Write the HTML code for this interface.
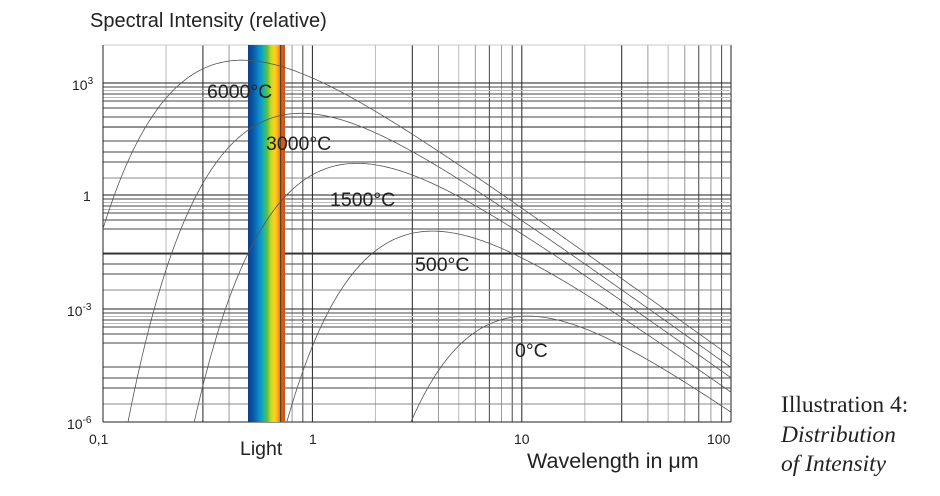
<!DOCTYPE html>
<html><head><meta charset="utf-8">
<style>
html,body{margin:0;padding:0;background:#fff;}
body{width:940px;height:496px;overflow:hidden;}
svg{display:block;}
svg text{font-family:"Liberation Sans",sans-serif;fill:#222;}
</style></head>
<body>
<svg id="s" width="940" height="496" xmlns="http://www.w3.org/2000/svg">
<defs>
<linearGradient id="sp" x1="0" x2="1" y1="0" y2="0">
<stop offset="0" stop-color="#0a3f8a"/>
<stop offset="0.15" stop-color="#0a5aa8"/>
<stop offset="0.3" stop-color="#0a8ccc"/>
<stop offset="0.42" stop-color="#17b2b0"/>
<stop offset="0.52" stop-color="#5fbf3a"/>
<stop offset="0.62" stop-color="#c6d82a"/>
<stop offset="0.72" stop-color="#ffd21a"/>
<stop offset="0.8" stop-color="#ffae14"/>
<stop offset="0.88" stop-color="#e8661a"/>
<stop offset="1" stop-color="#c8501e"/>
</linearGradient>
<clipPath id="cp"><rect x="103" y="45" width="628" height="377"/></clipPath>
</defs>
<g id="grid"></g>
<rect x="248" y="45" width="37" height="377" fill="url(#sp)"/>
<line x1="280.7" y1="45" x2="280.7" y2="422" stroke="#333" stroke-width="1"/>
<g id="curves" clip-path="url(#cp)" fill="none" stroke="#555" stroke-width="0.8"></g>
<text x="90" y="27" font-size="20">Spectral Intensity (relative)</text>
<text x="72" y="90" font-size="14">10<tspan dy="-6" font-size="10">3</tspan></text>
<text x="83" y="201" font-size="14">1</text>
<text x="67" y="316" font-size="14">10<tspan dy="-6" font-size="10">-3</tspan></text>
<text x="67" y="429" font-size="14">10<tspan dy="-6" font-size="10">-6</tspan></text>
<text x="89" y="444" font-size="14">0,1</text>
<text x="309" y="444" font-size="14">1</text>
<text x="514" y="444" font-size="14">10</text>
<text x="707" y="444" font-size="14">100</text>
<text x="240" y="455" font-size="19.5">Light</text>
<text x="527" y="468" font-size="21.5">Wavelength in μm</text>
<text x="207" y="98" font-size="19.5">6000°C</text>
<text x="266" y="150" font-size="19.5">3000°C</text>
<text x="330" y="206" font-size="19.5">1500°C</text>
<text x="415" y="271" font-size="19.5">500°C</text>
<text x="515" y="357" font-size="19.5">0°C</text>
<text x="781" y="412" font-size="23.5" style="font-family:'Liberation Serif',serif">Illustration 4:</text>
<text x="781" y="442" font-size="23.5" font-style="italic" style="font-family:'Liberation Serif',serif">Distribution</text>
<text x="781" y="471" font-size="23.5" font-style="italic" style="font-family:'Liberation Serif',serif">of Intensity</text>
</svg>
<script>
var NS="http://www.w3.org/2000/svg";
var g=document.getElementById("grid");
function ln(x1,y1,x2,y2,c){var l=document.createElementNS(NS,"line");l.setAttribute("x1",x1);l.setAttribute("y1",y1);l.setAttribute("x2",x2);l.setAttribute("y2",y2);l.setAttribute("stroke",c);l.setAttribute("stroke-width","1");g.appendChild(l);}
var X0=103,PD=209.4,L=103,R=731,T=45,B=422;
function xp(lam){return X0+PD*(Math.log10(lam)+1);}
for(var d=0;d<3;d++){for(var k=1;k<10;k++){var x=X0+PD*(d+Math.log10(k));var c=(k==1||k==3)?"#222":(k==2||k==5)?"#bbb":((k%2)?"#444":"#999");ln(x,T,x,B,c);}}
ln(R,T,R,B,"#222");
var offs=[[0,"#222"],[4,"#444"],[7.5,"#bbb"],[11,"#444"],[14.5,"#bbb"],[18,"#444"],[25,"#444"],[34,"#444"],[44,"#222"],[58,"#444"],[69,"#444"],[79,"#444"],[95,"#888"]];
[83,195,309].forEach(function(y0,i){offs.forEach(function(o){var oo=o[0];if(i==1&&oo==44)oo=59;if(i==2&&oo==44)oo=58;ln(L,y0+oo,R,y0+oo,o[1]);});});
ln(L,T,R,T,"#ccc");ln(L,B,R,B,"#222");ln(L,T,L,B,"#222");
var cg=document.getElementById("curves");
[6273,3273,1773,773,273].forEach(function(Tk){
 var d="";
 for(var i=0;i<=400;i++){var lg=-1+3*i/400;var lam=Math.pow(10,lg);var xx=14388/(lam*Tk);
  var b=Math.pow(lam,-5)/(Math.exp(xx)-1);var lb=Math.log10(b);
  var y=316-37.6*(lb+7.28);if(!isFinite(y)||y>480)y=480;
  d+=(i?"L":"M")+xp(lam).toFixed(2)+" "+y.toFixed(2);}
 var p=document.createElementNS(NS,"path");p.setAttribute("d",d);cg.appendChild(p);
});
</script>
</body></html>
